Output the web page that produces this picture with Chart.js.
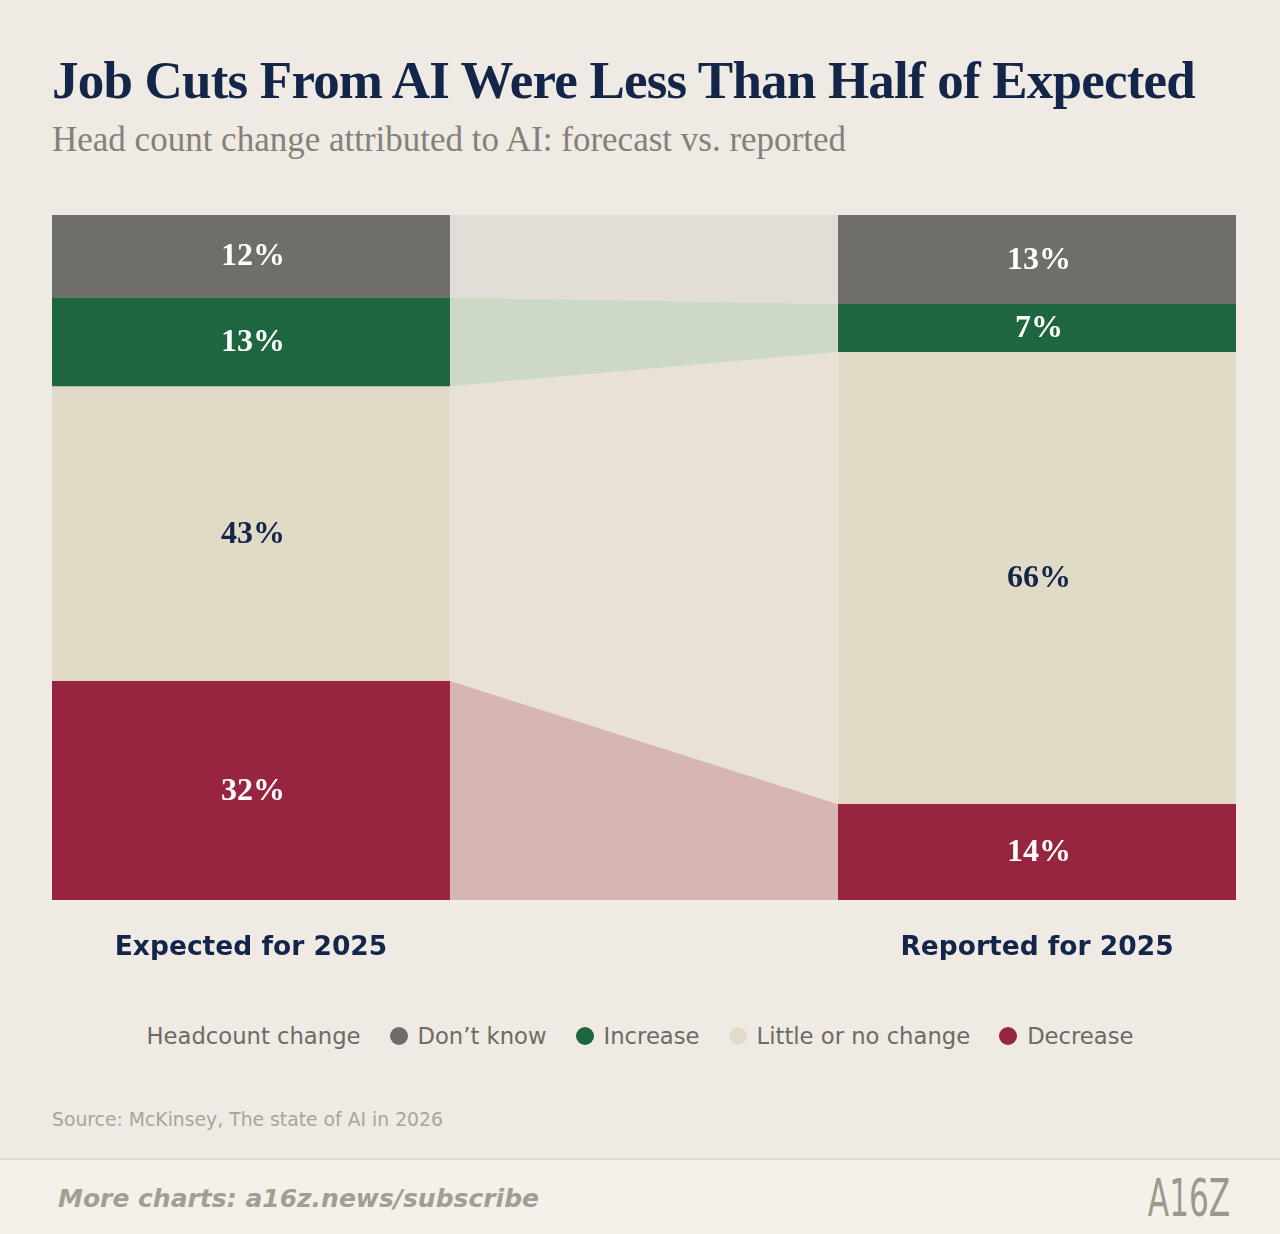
<!DOCTYPE html>
<html>
<head>
<meta charset="utf-8">
<script src="https://cdn.jsdelivr.net/npm/chart.js@4.4.1/dist/chart.umd.min.js"></script>
<style>
  html, body { margin: 0; padding: 0; }
  body { width: 1280px; height: 1234px; background: #efebe4; position: relative; overflow: hidden; font-family: 'DejaVu Sans', sans-serif; }
  #title { position: absolute; left: 52px; top: 54px; font: bold 53px 'Liberation Serif', serif; letter-spacing: -0.8px; color: #13264a; line-height: 1; white-space: nowrap; }
  #subtitle { position: absolute; left: 52px; top: 122px; font: 35px 'Liberation Serif', serif; color: #85807a; line-height: 1; white-space: nowrap; }
  #chartBox { position: absolute; left: 52px; top: 215px; width: 1184px; height: 745px; }
  #legend { position: absolute; left: 0; width: 1280px; top: 1020px; height: 32px; display: flex; justify-content: center; align-items: center; font-size: 22.7px; color: #6e6a64; white-space: nowrap; }
  #legend .dot { display: inline-block; width: 18px; height: 18px; border-radius: 50%; margin-left: 29px; margin-right: 10px; }
  #source { position: absolute; left: 52px; top: 1108px; font-size: 18.8px; color: #aaa59c; line-height: 24px; white-space: nowrap; }
  #footer { position: absolute; left: 0; top: 1158px; width: 1280px; height: 76px; background: #f4f1eb; border-top: 2px solid #e0dbd1; }
  #more { position: absolute; left: 58px; top: 24px; font-size: 25px; font-weight: bold; font-style: italic; color: #a39d94; line-height: 30px; white-space: nowrap; }
  #logo { position: absolute; left: 1107px; top: 12px; width: 164px; text-align: center; font-size: 52px; font-weight: normal; color: #9d988e; line-height: 52px; transform: scaleX(0.6); }
</style>
</head>
<body>
<div id="title">Job Cuts From AI Were Less Than Half of Expected</div>
<div id="subtitle">Head count change attributed to AI: forecast vs. reported</div>
<div id="chartBox"><canvas id="chart"></canvas></div>
<div id="legend"></div>
<div id="source">Source: McKinsey, The state of AI in 2026</div>
<div id="footer">
  <div id="more">More charts: a16z.news/subscribe</div>
  <div id="logo">A16Z</div>
</div>
<script>
// ---- data ----
const CATEGORIES = ['Expected for 2025', 'Reported for 2025'];
const SERIES = ['Don\u2019t know', 'Increase', 'Little or no change', 'Decrease'];
const EXPECTED = [12, 13, 43, 32];
const REPORTED = [13, 7, 66, 14];
const LEGEND_TITLE = 'Headcount change';

// ---- styles ----
const BAR_COLORS = ['#706e69', '#1e6640', '#e1dac7', '#97253f'];
const FLOW_COLORS = ['#e2ddd6', '#cdd8c7', '#e8e2d5', '#d7b5b5'];
const LEGEND_COLORS = ['#6f6c68', '#1e6640', '#e3dccb', '#97253f'];
const LABEL_COLORS = ['#ffffff', '#ffffff', '#13264a', '#ffffff'];
const GAP = 0.975; // width of the connector band relative to a bar

const COLUMNS = [EXPECTED, REPORTED];
const colStart = c => c * (1 + GAP);

const datasets = SERIES.map((name, i) => {
  const pts = [];
  COLUMNS.forEach((col, c) => {
    pts.push({ x: colStart(c), y: col[i] });
    pts.push({ x: colStart(c) + 1, y: col[i] });
  });
  return {
    label: name,
    data: pts,
    fill: i === 0 ? 'origin' : '-1',
    backgroundColor: BAR_COLORS[i],
    borderColor: 'transparent',
    borderWidth: 0,
    pointRadius: 0,
    pointHoverRadius: 0,
    tension: 0,
    segment: {
      backgroundColor: ctx => (ctx.p0DataIndex % 2 === 1 ? FLOW_COLORS[i] : BAR_COLORS[i])
    }
  };
});

const barLabels = {
  id: 'barLabels',
  afterDatasetsDraw(chart) {
    const { ctx } = chart;
    const y = chart.scales.y;
    ctx.save();
    ctx.font = "bold 32px 'Liberation Serif', serif";
    ctx.textAlign = 'center';
    ctx.textBaseline = 'middle';
    chart.data.datasets.forEach((ds, i) => {
      const meta = chart.getDatasetMeta(i);
      const prev = i > 0 ? chart.getDatasetMeta(i - 1) : null;
      COLUMNS.forEach((col, c) => {
        const p0 = meta.data[2 * c], p1 = meta.data[2 * c + 1];
        const top = prev ? prev.data[2 * c].y : y.getPixelForValue(0);
        ctx.fillStyle = LABEL_COLORS[i];
        ctx.fillText(col[i] + '%', (p0.x + p1.x) / 2 + 2, (top + p0.y) / 2 + 1);
      });
    });
    ctx.restore();
  }
};

new Chart(document.getElementById('chart'), {
  type: 'line',
  data: { datasets },
  plugins: [barLabels],
  options: {
    responsive: true,
    maintainAspectRatio: false,
    animation: false,
    layout: { padding: 0 },
    plugins: { legend: { display: false }, tooltip: { enabled: false } },
    scales: {
      x: {
        type: 'linear', min: 0, max: colStart(COLUMNS.length - 1) + 1,
        grid: { display: false, drawTicks: false },
        border: { display: false },
        afterBuildTicks: s => { s.ticks = CATEGORIES.map((_, c) => ({ value: colStart(c) + 0.5 })); },
        afterFit: s => { s.height = 60; },
        ticks: {
          autoSkip: false, maxRotation: 0, minRotation: 0, padding: 32,
          color: '#13264a',
          font: { family: "'DejaVu Sans', sans-serif", weight: 'bold', size: 26.5 },
          callback: (v, idx) => CATEGORIES[idx]
        }
      },
      y: { display: false, stacked: true, reverse: true, min: 0, max: 100 }
    }
  }
});

// ---- HTML legend from series ----
const legend = document.getElementById('legend');
const lt = document.createElement('span');
lt.textContent = LEGEND_TITLE;
legend.appendChild(lt);
SERIES.forEach((name, i) => {
  const d = document.createElement('span');
  d.className = 'dot';
  d.style.background = LEGEND_COLORS[i];
  legend.appendChild(d);
  const t = document.createElement('span');
  t.textContent = name;
  legend.appendChild(t);
});
</script>
</body>
</html>
